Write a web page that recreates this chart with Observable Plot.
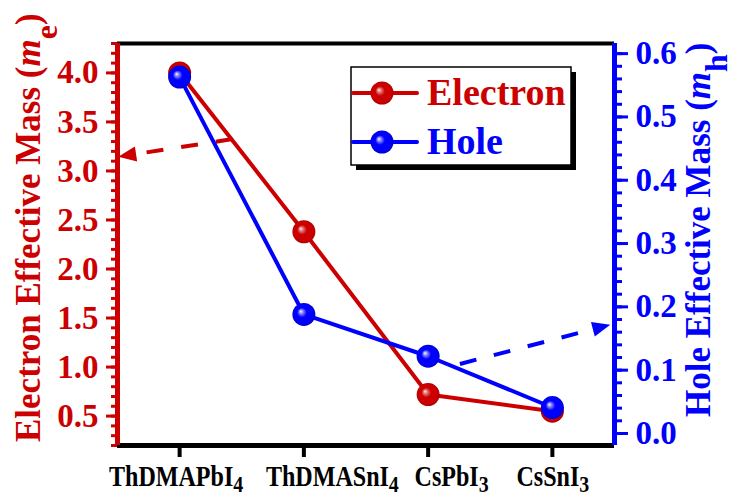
<!DOCTYPE html>
<html>
<head>
<meta charset="utf-8">
<script src="https://cdn.jsdelivr.net/npm/d3@7"></script>
<script src="https://cdn.jsdelivr.net/npm/@observablehq/plot@0.6"></script>
<style>
  html, body { margin: 0; padding: 0; background: #fff; }
  #chart svg { display: block; }
</style>
</head>
<body>
<div id="chart"></div>
<script>
// Compounds along the x axis (formula body + subscript)
const compounds = ["ThDMAPbI", "ThDMASnI", "CsPbI", "CsSnI"];
const compoundSubs = ["4", "4", "3", "3"];

// Effective masses (electron on the left axis, hole on the right axis)
const electronMass = [4.0, 2.38, 0.72, 0.55];
const holeMass = [0.563, 0.188, 0.122, 0.041];

// Axis ranges and ticks
const electronDomain = [0.2, 4.3];
const holeDomain = [-0.019, 0.616];
const electronTicks = [0.5, 1.0, 1.5, 2.0, 2.5, 3.0, 3.5, 4.0];
const holeTicks = [0.0, 0.1, 0.2, 0.3, 0.4, 0.5, 0.6];
const electronMinor = d3.range(2, 44).map(i => i / 10);
const holeMinor = d3.range(0, 31).map(i => i / 50);

// Guide arrows pointing each curve to its axis: [compound index, value]
const electronArrow = { from: [0.43, 3.32], to: [-0.49, 3.14] };
const holeArrow = { from: [2.26, 0.109], to: [3.47, 0.171] };

const RED = "#cc0000";
const BLUE = "#0000ff";

// Hole values live on the left (electron) scale, remapped linearly
const toLeft = h => electronDomain[0] + (h - holeDomain[0]) / (holeDomain[1] - holeDomain[0]) * (electronDomain[1] - electronDomain[0]);
const toHole = v => holeDomain[0] + (v - electronDomain[0]) / (electronDomain[1] - electronDomain[0]) * (holeDomain[1] - holeDomain[0]);

const electronRows = electronMass.map((v, i) => ({ i, v }));
const holeRows = holeMass.map((h, i) => ({ i, v: toLeft(h) }));

function dashedArrow(a, conv, color) {
  return (index, scales) => {
    const x1 = scales.x(a.from[0]), y1 = scales.y(conv(a.from[1]));
    const x2 = scales.x(a.to[0]), y2 = scales.y(conv(a.to[1]));
    const ang = Math.atan2(y2 - y1, x2 - x1);
    const L = 18, W = 7.5;
    const bx = x2 - L * Math.cos(ang), by = y2 - L * Math.sin(ang);
    const g = d3.create("svg:g");
    g.append("line")
      .attr("x1", x1).attr("y1", y1)
      .attr("x2", bx + 2 * Math.cos(ang)).attr("y2", by + 2 * Math.sin(ang))
      .attr("stroke", color).attr("stroke-width", 4)
      .attr("stroke-dasharray", "17,18");
    g.append("path")
      .attr("d", `M${x2},${y2}L${bx + W * Math.sin(ang)},${by - W * Math.cos(ang)}L${bx - W * Math.sin(ang)},${by + W * Math.cos(ang)}Z`)
      .attr("fill", color);
    return g.node();
  };
}

const plot = Plot.plot({
  width: 731,
  height: 492,
  marginLeft: 117,
  marginRight: 117,
  marginTop: 43,
  marginBottom: 47,
  style: {
    fontFamily: "'Liberation Serif', 'Times New Roman', serif",
    fontWeight: "bold",
    fontSize: "33px",
    background: "#fff"
  },
  x: { type: "linear", domain: [-0.5, 3.5], axis: null },
  y: { type: "linear", domain: electronDomain, axis: null },
  marks: [
    // frame: black top and bottom
    Plot.ruleY([electronDomain[1]], { stroke: "#000", strokeWidth: 4 }),
    Plot.ruleY([electronDomain[0]], { stroke: "#000", strokeWidth: 5 }),
    // x ticks (labels are set below with subscripts)
    Plot.axisX([0, 1, 2, 3], { anchor: "bottom", tickSize: 12, strokeWidth: 4, color: "#000", tickFormat: () => "", label: null }),
    // left axis (electron)
    Plot.axisY(electronMinor, { anchor: "left", tickSize: 6, strokeWidth: 3, color: RED, tickFormat: () => "", label: null }),
    Plot.axisY(electronTicks, { anchor: "left", tickSize: 11, tickPadding: 8, strokeWidth: 3, color: RED, tickFormat: d => d.toFixed(1), label: null }),
    Plot.ruleX([-0.5], { stroke: RED, strokeWidth: 5 }),
    // right axis (hole)
    Plot.axisY(holeMinor.map(toLeft), { anchor: "right", tickSize: 7, strokeWidth: 3, color: BLUE, tickFormat: () => "", label: null }),
    Plot.axisY(holeTicks.map(toLeft), { anchor: "right", tickSize: 13, tickPadding: 8, strokeWidth: 3, color: BLUE, tickFormat: d => Math.abs(toHole(d)).toFixed(1), label: null }),
    Plot.ruleX([3.5], { stroke: BLUE, strokeWidth: 5 }),
    // guide arrows
    dashedArrow(electronArrow, v => v, RED),
    dashedArrow(holeArrow, toLeft, BLUE),
    // series
    Plot.line(electronRows, { x: "i", y: "v", stroke: RED, strokeWidth: 4 }),
    Plot.dot(electronRows, { x: "i", y: "v", r: 11.5, fill: "url(#ballRed)", stroke: "none" }),
    Plot.line(holeRows, { x: "i", y: "v", stroke: BLUE, strokeWidth: 4 }),
    Plot.dot(holeRows, { x: "i", y: "v", r: 11.5, fill: "url(#ballBlue)", stroke: "none" })
  ]
});

const svg = d3.select(plot);

// shaded sphere gradients for the markers
const defs = svg.insert("defs", ":first-child");
function ball(id, light, base, dark) {
  const g = defs.append("radialGradient").attr("id", id)
    .attr("cx", "0.5").attr("cy", "0.5").attr("r", "0.5")
    .attr("fx", "0.36").attr("fy", "0.36");
  g.append("stop").attr("offset", "0").attr("stop-color", "#ffffff");
  g.append("stop").attr("offset", "0.14").attr("stop-color", light);
  g.append("stop").attr("offset", "0.42").attr("stop-color", base);
  g.append("stop").attr("offset", "0.85").attr("stop-color", base);
  g.append("stop").attr("offset", "1").attr("stop-color", dark);
}
ball("ballRed", "#e88a8a", RED, "#a80000");
ball("ballBlue", "#9a9aff", BLUE, "#0000c8");

const fam = "'Liberation Serif', 'Times New Roman', serif";
const xs = plot.scale("x");

// compound names with subscripts; the middle two sit a little right of their ticks
const labelShift = [-3, 29, 24, 1];
compounds.forEach((c, k) => {
  const t = svg.append("text")
    .attr("transform", `translate(${xs.apply(k) + labelShift[k]},486) scale(0.83,1)`)
    .attr("text-anchor", "middle")
    .attr("font-family", fam).attr("font-weight", "bold")
    .attr("font-size", 29).attr("fill", "#000");
  t.append("tspan").text(c);
  t.append("tspan").attr("dy", 5.5).attr("font-size", 24).text(compoundSubs[k]);
});

// axis titles
function axisTitle(x, y, color, main, sub) {
  const t = svg.append("text")
    .attr("transform", `translate(${x},${y}) rotate(-90)`)
    .attr("text-anchor", "start")
    .attr("font-family", fam).attr("font-weight", "bold")
    .attr("font-size", 35).attr("fill", color);
  t.append("tspan").text(main + " (");
  t.append("tspan").attr("font-style", "italic").text("m");
  t.append("tspan").attr("dy", 17).attr("font-size", 32).text(sub);
  t.append("tspan").attr("dy", -17).text(")");
}
axisTitle(40, 442, RED, "Electron Effective Mass", "e");
axisTitle(710, 417, BLUE, "Hole Effective Mass", "h");

// legend
const lg = svg.append("g").attr("text-anchor", "start");
lg.append("rect").attr("x", 356).attr("y", 72).attr("width", 220).attr("height", 98).attr("fill", "#000");
lg.append("rect").attr("x", 351).attr("y", 67).attr("width", 220).attr("height", 98)
  .attr("fill", "#fff").attr("stroke", "#000").attr("stroke-width", 1.5);
[["Electron", RED, "ballRed", 93], ["Hole", BLUE, "ballBlue", 142]].forEach(([name, color, grad, y]) => {
  lg.append("line").attr("x1", 353).attr("x2", 417).attr("y1", y).attr("y2", y)
    .attr("stroke", color).attr("stroke-width", 4).attr("stroke-linecap", "round");
  lg.append("circle").attr("cx", 382).attr("cy", y).attr("r", 11.5).attr("fill", `url(#${grad})`);
  lg.append("text").attr("x", 427).attr("y", y + 12)
    .attr("text-anchor", "start")
    .attr("font-family", fam).attr("font-weight", "bold").attr("font-size", 38)
    .attr("fill", color).text(name);
});

document.getElementById("chart").append(plot);
</script>
</body>
</html>
